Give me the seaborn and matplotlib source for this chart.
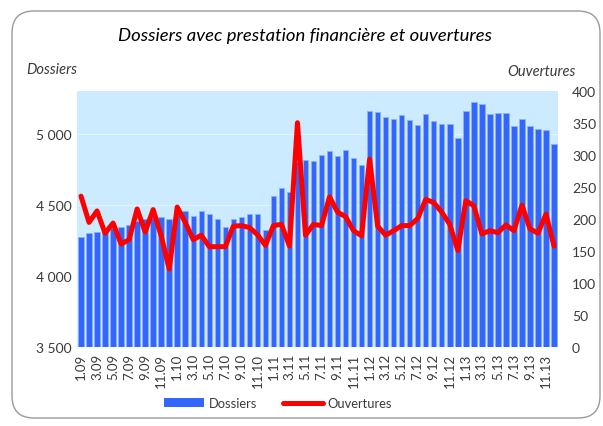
import matplotlib
matplotlib.use("Agg")
import matplotlib.pyplot as plt
import seaborn as sns
import pandas as pd
import numpy as np
from matplotlib.patches import FancyBboxPatch
from matplotlib.transforms import IdentityTransform
from matplotlib.lines import Line2D
from matplotlib.patches import Patch

months = [f"{m}.{y:02d}" for y in range(9, 14) for m in range(1, 13)]

dossiers = [4277, 4300, 4310, 4320, 4335, 4347, 4359, 4385, 4400, 4410, 4413, 4400,
            4430, 4456, 4420, 4458, 4439, 4401, 4345, 4399, 4413, 4434, 4439, 4321,
            4566, 4617, 4594, 4800, 4815, 4810, 4850, 4883, 4848, 4885, 4829, 4782,
            5164, 5152, 5122, 5106, 5136, 5099, 5063, 5138, 5089, 5070, 5070, 4969,
            5162, 5225, 5209, 5141, 5146, 5146, 5059, 5108, 5054, 5035, 5028, 4930]

ouvertures = [236, 195, 213, 178, 194, 161, 168, 216, 180, 215, 174, 122,
              219, 195, 168, 175, 157, 157, 157, 189, 190, 187, 176, 159,
              190, 192, 158, 351, 175, 192, 190, 235, 211, 204, 182, 174,
              294, 189, 175, 182, 190, 190, 201, 231, 226, 211, 192, 151,
              229, 221, 177, 182, 179, 191, 182, 222, 185, 178, 208, 158]

left_ticks = [3500, 4000, 4500, 5000]
left_tick_labels = ["3 500", "4 000", "4 500", "5 000"]
right_ticks = [0, 50, 100, 150, 200, 250, 300, 350, 400]

df = pd.DataFrame({"mois": months, "Dossiers": dossiers,
                   "Ouvertures": ouvertures, "pos": np.arange(len(months))})

sns.set_style("white")
plt.rcParams["font.family"] = ["Lato", "DejaVu Sans"]

TXT = "#3A3A3A"
W, H = 603, 427
fig = plt.figure(figsize=(W / 100, H / 100), dpi=100)
fig.patch.set_facecolor("white")

ax = fig.add_axes([77 / W, 1 - 348 / H, (558 - 77) / W, (348 - 92.4) / H])
ax.set_facecolor("#CCEBFF")

for t in left_ticks[1:]:
    ax.axhline(t, color="#E4F4FF", lw=0.8, zorder=0)

sns.barplot(data=df, x="mois", y="Dossiers", color="#3366FF", width=0.68,
            saturation=1, edgecolor="#8FB0FF", linewidth=0.6, ax=ax, zorder=2)
ax.set_ylim(3500, 5300)
ax.set_xlim(-0.5, len(months) - 0.5)
ax.set_yticks(left_ticks)
ax.set_yticklabels(left_tick_labels, fontsize=10, color=TXT)
ax.set_xticks(range(0, len(months), 2))
ax.set_xticklabels(months[::2], rotation=90, fontsize=9.5, color=TXT)
ax.tick_params(axis="both", length=0, pad=4)
ax.set_xlabel("")
ax.set_ylabel("")
for s in ax.spines.values():
    s.set_visible(False)

ax2 = ax.twinx()
sns.lineplot(data=df, x="pos", y="Ouvertures", color="#FF0000", lw=3.6,
             ax=ax2, zorder=3)
ax2.set_ylim(0, 400)
ax2.set_xlim(-0.5, len(months) - 0.5)
ax2.set_yticks(right_ticks)
ax2.set_yticklabels([str(v) for v in right_ticks], fontsize=10, color=TXT)
ax2.tick_params(axis="y", length=0, pad=10)
ax2.set_ylabel("")
for s in ax2.spines.values():
    s.set_visible(False)

fig.text(305 / W, 1 - 36 / H, "Dossiers avec prestation financière et ouvertures",
         ha="center", va="center", fontsize=13.3, style="italic", color="#000000")
fig.text(26 / W, 1 - 70 / H, "Dossiers", ha="left", va="center",
         fontsize=10.5, style="italic", color=TXT)
fig.text(576 / W, 1 - 72 / H, "Ouvertures", ha="right", va="center",
         fontsize=10.5, style="italic", color=TXT)

handles = [Patch(facecolor="#3366FF", edgecolor="none"),
           Line2D([0], [0], color="#FF0000", lw=3.6)]
fig.legend(handles, ["Dossiers", "Ouvertures"], loc="center",
           bbox_to_anchor=(278 / W, 1 - 404 / H), ncol=2, frameon=False,
           fontsize=9.3, handlelength=3.1, handleheight=0.65, columnspacing=2.0,
           handletextpad=0.35, labelcolor=TXT)

frame = FancyBboxPatch((12, 8), 588, 407, boxstyle="round,pad=0,rounding_size=22",
                       transform=IdentityTransform(), fill=False,
                       edgecolor="#9A9A9A", lw=1.0)
fig.patches.append(frame)

fig.savefig("out.png", dpi=100)
